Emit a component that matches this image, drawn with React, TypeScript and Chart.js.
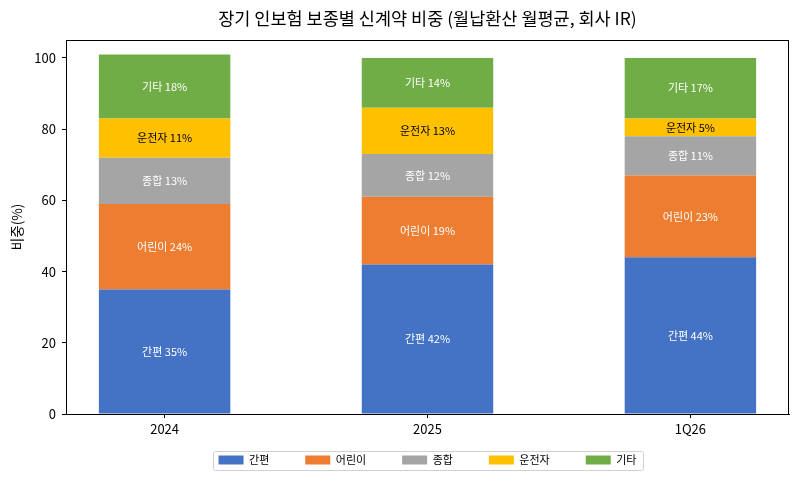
import React, { useEffect, useRef } from 'react';
import Chart from 'chart.js/auto';

const categories = ['2024', '2025', '1Q26'];
const seriesNames = ['간편', '어린이', '종합', '운전자', '기타'];
const seriesColors = ['#4472C4', '#ED7D31', '#A5A5A5', '#FFC000', '#70AD47'];
const labelColors = ['#ffffff', '#ffffff', '#ffffff', '#000000', '#ffffff'];
const ganpyeon = [35, 42, 44];
const eorini = [24, 19, 23];
const jonghap = [13, 12, 11];
const unjeonja = [11, 13, 5];
const gita = [18, 14, 17];
const yTicks = [0, 20, 40, 60, 80, 100];

const FONT = "'Noto Sans CJK KR', 'Noto Sans', sans-serif";
const LEGEND_PAD = 36;

const App = () => {
  const canvasRef = useRef(null);
  const chartRef = useRef(null);

  useEffect(() => {
    document.body.style.margin = '0';
    if (!canvasRef.current) return;

    const values = [ganpyeon, eorini, jonghap, unjeonja, gita];

    // segment labels + top/right spines + legend frame
    const extras = {
      id: 'extras',
      afterLayout(chart) {
        const a = chart.chartArea;
        // center title and legend over the plot area, not the canvas
        const shift = (a.left + a.right) / 2 - chart.width / 2 + 4;
        const lg = chart.legend;
        if (lg) {
          lg.top -= LEGEND_PAD - 10.5;
          lg.bottom -= LEGEND_PAD - 10.5;
          lg.left += shift;
          lg.right += shift;
        }
        const tb = chart.titleBlock;
        if (tb) {
          tb.left += shift;
          tb.right += shift;
        }
      },
      afterDatasetsDraw(chart) {
        const ctx = chart.ctx;
        ctx.save();
        ctx.font = `11px ${FONT}`;
        ctx.textAlign = 'center';
        ctx.textBaseline = 'middle';
        chart.data.datasets.forEach((ds, i) => {
          const meta = chart.getDatasetMeta(i);
          meta.data.forEach((el, j) => {
            ctx.fillStyle = labelColors[i];
            ctx.fillText(`${ds.label} ${values[i][j]}%`, el.x, (el.y + el.base) / 2);
          });
        });
        const a = chart.chartArea;
        ctx.strokeStyle = '#000';
        ctx.lineWidth = 1;
        ctx.strokeRect(a.left + 0.5, a.top + 0.5, a.right - a.left - 1, a.bottom - a.top);
        ctx.restore();
      },
      afterDraw(chart) {
        const boxes = chart.legend.legendHitBoxes;
        if (!boxes || !boxes.length) return;
        const ctx = chart.ctx;
        const l = Math.min(...boxes.map((b) => b.left)) - 6;
        const r = Math.max(...boxes.map((b) => b.left + b.width)) + 6;
        const t = boxes[0].top - 4;
        const h = boxes[0].height + 8;
        ctx.save();
        ctx.strokeStyle = '#d0d0d0';
        ctx.lineWidth = 1;
        ctx.beginPath();
        ctx.roundRect(Math.round(l) + 0.5, Math.round(t) + 0.5, Math.round(r - l), Math.round(h), 2);
        ctx.stroke();
        ctx.restore();
      },
    };

    const config = {
      type: 'bar',
      data: {
        datasets: seriesNames.map((name, i) => ({
          label: name,
          data: values[i].map((v, j) => ({ x: j, y: v })),
          backgroundColor: seriesColors[i],
          borderWidth: 0,
          barPercentage: 0.5,
          categoryPercentage: 1,
        })),
      },
      options: {
        responsive: true,
        maintainAspectRatio: false,
        animation: false,
        layout: { padding: { left: 4, right: 12, top: 0, bottom: -20 } },
        plugins: {
          title: {
            display: true,
            text: '장기 인보험 보종별 신계약 비중 (월납환산 월평균, 회사 IR)',
            color: '#000',
            font: { family: FONT, size: 17.5, weight: 'normal' },
            padding: { top: 8, bottom: 11 },
          },
          legend: {
            position: 'bottom',
            labels: {
              color: '#000',
              font: { family: FONT, size: 11 },
              boxWidth: 25,
              boxHeight: 9,
              padding: LEGEND_PAD,
            },
          },
          tooltip: { enabled: false },
        },
        scales: {
          x: {
            type: 'linear',
            stacked: true,
            offset: false,
            min: -0.375,
            max: 2.375,
            afterBuildTicks: (s) => {
              s.ticks = categories.map((_, i) => ({ value: i }));
            },
            afterFit: (s) => {
              s.height = 30;
            },
            ticks: {
              color: '#000',
              font: { family: FONT, size: 13 },
              callback: (v) => categories[v],
              padding: 3,
            },
            grid: { offset: false, drawOnChartArea: false, tickLength: 4, color: '#000' },
            border: { color: '#000' },
          },
          y: {
            stacked: true,
            min: 0,
            max: 105.05,
            afterBuildTicks: (s) => {
              s.ticks = yTicks.map((v) => ({ value: v }));
            },
            afterFit: (s) => {
              s.width = 62;
            },
            ticks: {
              color: '#000',
              font: { family: FONT, size: 13 },
              padding: 6,
            },
            grid: { drawOnChartArea: false, tickLength: 4, color: '#000' },
            border: { color: '#000' },
            title: {
              display: true,
              text: '비중(%)',
              color: '#000',
              font: { family: FONT, size: 13.5 },
              padding: 5,
            },
          },
        },
      },
      plugins: [extras],
    };

    if (chartRef.current) chartRef.current.destroy();
    chartRef.current = new Chart(canvasRef.current, config);

    return () => {
      if (chartRef.current) {
        chartRef.current.destroy();
        chartRef.current = null;
      }
    };
  }, []);

  return (
    <div style={{ position: 'relative', width: 801, height: 481, background: '#fff' }}>
      <canvas ref={canvasRef} />
    </div>
  );
};

export default App;
